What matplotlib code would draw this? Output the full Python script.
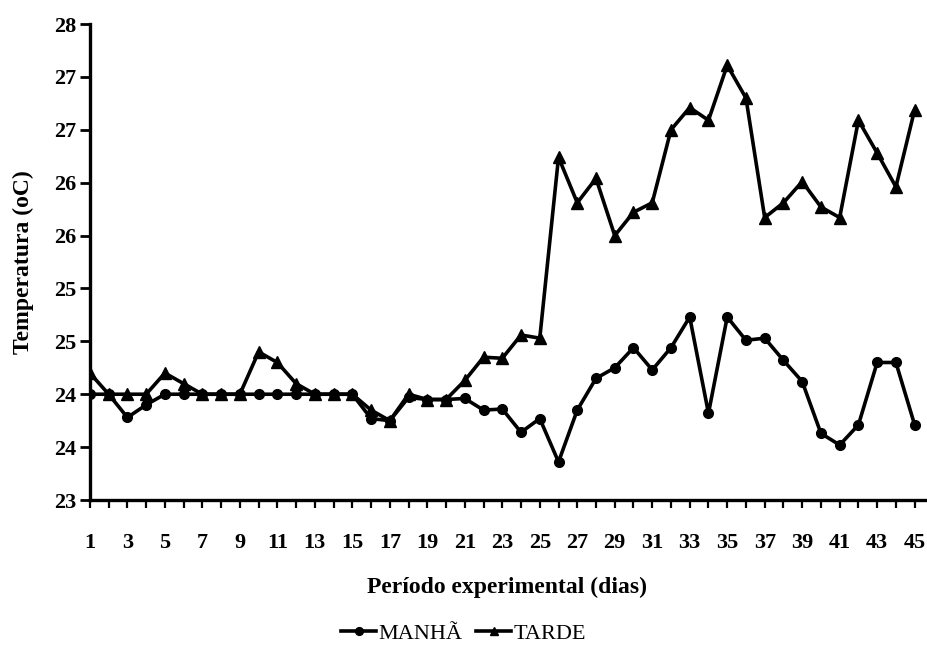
import matplotlib
matplotlib.use("Agg")
import matplotlib.pyplot as plt

plt.rcParams.update({"font.family": ["Liberation Serif", "DejaVu Serif"]})

# dias 1..45
dias = list(range(1, 46))

manha = [24.0, 24.0, 23.78, 23.9, 24.0, 24.0, 24.0, 24.0, 24.0, 24.0,
         24.0, 24.0, 24.0, 24.0, 24.0, 23.77, 23.75, 23.97, 23.95, 23.95,
         23.96, 23.85, 23.86, 23.64, 23.77, 23.36, 23.85, 24.15, 24.25, 24.44,
         24.23, 24.44, 24.73, 23.82, 24.73, 24.51, 24.53, 24.32, 24.12, 23.63,
         23.52, 23.71, 24.30, 24.30, 23.71]

tarde = [24.2, 24.0, 24.0, 24.0, 24.2, 24.1, 24.0, 24.0, 24.0, 24.4,
         24.3, 24.1, 24.0, 24.0, 24.0, 23.85, 23.75, 24.0, 23.95, 23.95,
         24.13, 24.35, 24.34, 24.56, 24.53, 26.24, 25.81, 26.04, 25.50, 25.72,
         25.81, 26.50, 26.71, 26.59, 27.11, 26.80, 25.67, 25.81, 26.01, 25.77,
         25.67, 26.59, 26.28, 25.96, 26.69]

# rotulos do eixo y arredondados como no original (passo de 0,5)
y_ticks = [23.0, 23.5, 24.0, 24.5, 25.0, 25.5, 26.0, 26.5, 27.0, 27.5]
y_labels = ["23", "24", "24", "25", "25", "26", "26", "27", "27", "28"]
x_labels = [str(d) if d % 2 == 1 else "" for d in dias]

fig = plt.figure(figsize=(9.27, 6.47), dpi=100)
ax = fig.add_axes([0.097, 0.2272, 0.9008, 0.7357])

ax.plot(dias, manha, color="black", lw=2.6, marker="o", ms=7,
        solid_joinstyle="round", label="MANHÃ")
ax.plot(dias, tarde, color="black", lw=2.6, marker="^", ms=8,
        solid_joinstyle="round", label="TARDE")

ax.set_xlim(1, 45.55)
ax.set_ylim(23, 27.5)
ax.set_yticks(y_ticks)
ax.set_yticklabels(y_labels)
ax.set_xticks(dias)
ax.set_xticklabels(x_labels)

for s in ("top", "right"):
    ax.spines[s].set_visible(False)
for s in ("left", "bottom"):
    ax.spines[s].set_linewidth(2.4)

ax.tick_params(axis="y", direction="out", length=7, width=2, pad=3, labelsize=16)
ax.tick_params(axis="x", direction="out", length=6, width=1.6, pad=18, labelsize=16)
for lbl in ax.get_xticklabels() + ax.get_yticklabels():
    lbl.set_fontweight("bold")

ax.set_xlabel("Período experimental (dias)", fontsize=17, fontweight="bold", labelpad=17)
ax.set_ylabel("Temperatura (oC)", fontsize=17, fontweight="bold", labelpad=14)

fig.legend(loc="lower center", bbox_to_anchor=(0.5, -0.026), ncol=2, frameon=False,
           fontsize=16, handlelength=1.6, handletextpad=0.1, columnspacing=0.6,
           markerscale=0.8)

fig.savefig("out.png", dpi=100)
